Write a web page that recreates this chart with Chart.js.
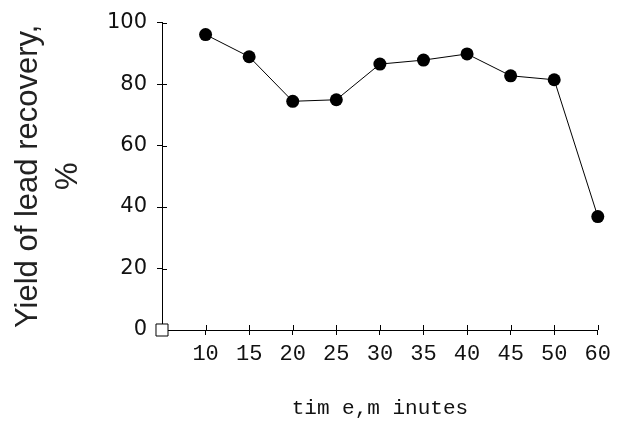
<!DOCTYPE html>
<html>
<head>
<meta charset="utf-8">
<script src="https://cdn.jsdelivr.net/npm/chart.js@4"></script>
<style>
  html, body { margin: 0; padding: 0; background: #fff; }
  #wrap { width: 617px; height: 430px; }
</style>
</head>
<body>
<div id="wrap"><canvas id="chart"></canvas></div>
<script>
const times = ["10", "15", "20", "25", "30", "35", "40", "45", "50", "60"];
const yields = [96.1, 88.9, 74.4, 74.9, 86.5, 87.8, 89.8, 82.7, 81.4, 36.9];
const yMin = 0, yMax = 100, yStep = 20;

// first category is the empty origin slot, so the axis starts at the y axis
const labels = [""].concat(times);
const yieldData = [null].concat(yields);
const originMark = [0];

// ticks cross the axis lines: chart.js draws the outer half, this adds the inner half
const crossTicks = {
  id: "crossTicks",
  beforeDatasetsDraw(chart) {
    const { ctx, chartArea, scales } = chart;
    ctx.save();
    ctx.strokeStyle = "#000";
    ctx.lineWidth = 1;
    ctx.beginPath();
    scales.y.ticks.forEach((t) => {
      const py = Math.round(scales.y.getPixelForValue(t.value)) + 0.5;
      ctx.moveTo(chartArea.left, py);
      ctx.lineTo(chartArea.left + 5, py);
    });
    scales.x.ticks.forEach((t, i) => {
      const px = Math.round(scales.x.getPixelForTick(i)) + 0.5;
      ctx.moveTo(px, chartArea.bottom);
      ctx.lineTo(px, chartArea.bottom - 5);
    });
    ctx.stroke();
    ctx.restore();
  },
};

new Chart(document.getElementById("chart"), {
  type: "line",
  data: {
    labels: labels,
    datasets: [
      {
        data: yieldData,
        borderColor: "#000",
        borderWidth: 1,
        pointRadius: 6.5,
        pointBackgroundColor: "#000",
        pointBorderColor: "#000",
        pointBorderWidth: 0,
        tension: 0,
        clip: false,
      },
      {
        data: originMark,
        showLine: false,
        pointStyle: "rect",
        pointRadius: 8.5,
        pointBackgroundColor: "#fff",
        pointBorderColor: "#000",
        pointBorderWidth: 1,
        clip: false,
      },
    ],
  },
  options: {
    responsive: true,
    maintainAspectRatio: false,
    animation: false,
    layout: { padding: { left: 0, top: 21, right: 15, bottom: 0 } },
    plugins: { legend: { display: false }, tooltip: { enabled: false } },
    scales: {
      x: {
        type: "category",
        offset: false,
        grid: {
          drawOnChartArea: false,
          drawTicks: true,
          tickLength: 5,
          color: "#000",
        },
        border: { color: "#000", width: 1 },
        ticks: {
          autoSkip: false,
          maxRotation: 0,
          padding: 6,
          color: "#111",
          font: { family: "Liberation Mono", size: 22 },
        },
        title: {
          display: true,
          text: "tim e,m inutes",
          color: "#111",
          font: { family: "Liberation Mono", size: 21 },
          padding: { top: 0, bottom: 9 },
        },
        afterFit(scale) {
          scale.height = 100;
        },
      },
      y: {
        min: yMin,
        max: yMax,
        grid: {
          drawOnChartArea: false,
          drawTicks: true,
          tickLength: 5,
          color: "#000",
        },
        border: { color: "#000", width: 1 },
        ticks: {
          stepSize: yStep,
          padding: 10,
          color: "#111",
          font: { family: "DejaVu Sans", size: 21 },
        },
        title: {
          display: true,
          text: ["Yield of lead recovery,", "%"],
          color: "#222",
          font: { family: "Liberation Sans", size: 31, lineHeight: 1.3 },
          padding: { top: 8, bottom: 0 },
        },
        afterFit(scale) {
          scale.width = 162;
        },
      },
    },
  },
  plugins: [crossTicks],
});
</script>
</body>
</html>
